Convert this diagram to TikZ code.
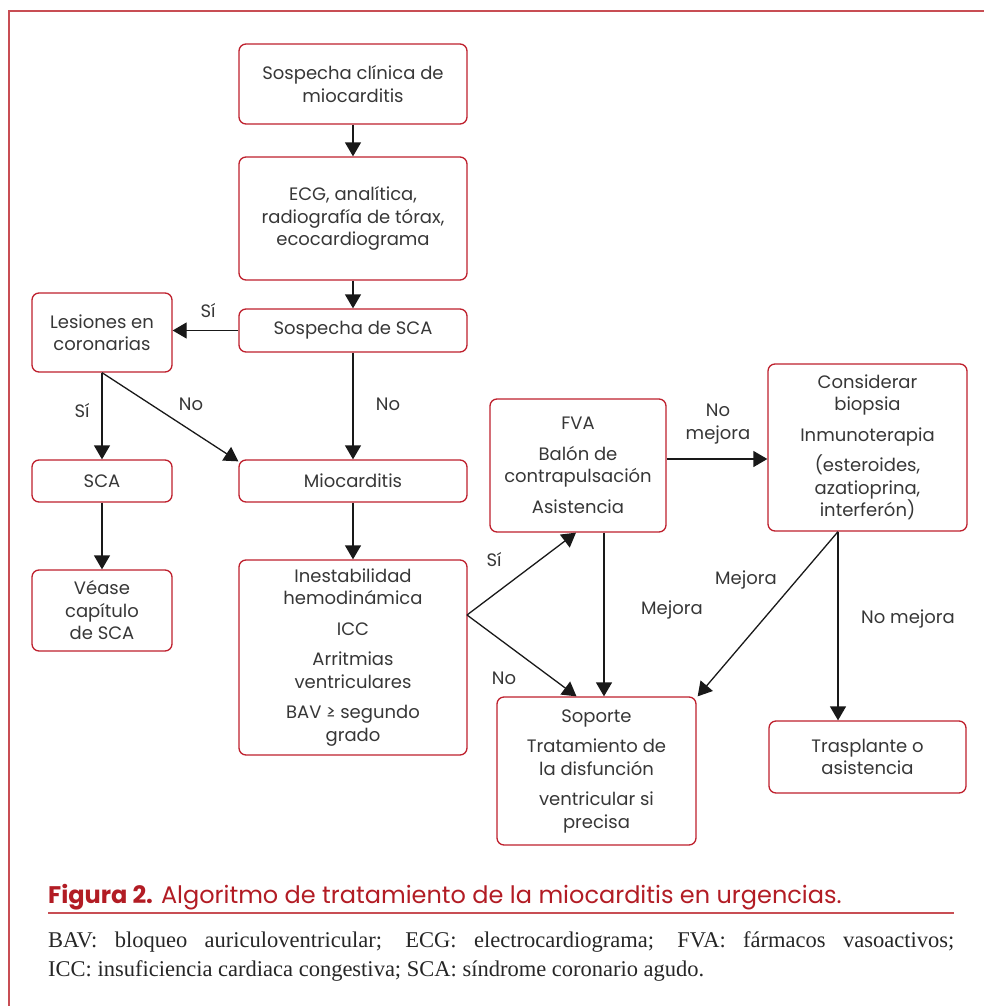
\documentclass[tikz,border=0pt]{standalone}
\usepackage{fontspec}
\setsansfont{Poppins}
\setmainfont{Liberation Serif}
\usetikzlibrary{arrows.meta,calc}
\definecolor{boxred}{RGB}{190,32,45}
\definecolor{framered}{RGB}{200,78,84}
\definecolor{capred}{RGB}{178,28,36}
\definecolor{txt}{RGB}{55,55,55}
\begin{document}
\begin{tikzpicture}[x=1pt,y=-1pt,
  box/.style={draw=boxred,line width=1.3pt,rounded corners=7pt,fill=white,
    align=center,text=txt,inner sep=0pt,
    font=\sffamily\fontsize{18}{22.5}\selectfont},
  arr/.style={draw=black!90,line width=1.3pt,-{Triangle[width=16pt,length=14pt]}},
  lab/.style={text=txt,font=\sffamily\fontsize{18}{22.5}\selectfont,align=center,inner sep=0pt}]
\useasboundingbox (0,0) rectangle (983,1006);
\draw[framered,line width=2pt] (9,1007) -- (9,11) -- (984,11);

\node[box,minimum width=228pt,minimum height=80pt] (b1) at (353,84) {Sospecha clínica de\\miocarditis};
\node[box,minimum width=228pt,minimum height=123pt] (b2) at (353,218.5) {ECG, analítica,\\radiografía de tórax,\\ecocardiograma};
\node[box,minimum width=228pt,minimum height=43pt] (b3) at (353,330.5) {Sospecha de SCA};
\node[box,minimum width=140pt,minimum height=79pt] (les) at (102,332.5) {Lesiones en\\coronarias};
\node[box,minimum width=140pt,minimum height=42pt] (sca) at (102,481) {SCA};
\node[box,minimum width=140pt,minimum height=81pt] (vea) at (102,610.5) {Véase\\capítulo\\de SCA};
\node[box,minimum width=228pt,minimum height=42pt] (mio) at (353,481) {Miocarditis};
\node[box,minimum width=228pt,minimum height=195pt] (ine) at (353,657.5) {Inestabilidad\\hemodinámica\\[8pt]ICC\\[8pt]Arritmias\\ventriculares\\[8pt]BAV ≥ segundo\\grado};
\node[box,minimum width=176pt,minimum height=133pt] (fva) at (578,465.5) {FVA\\[8pt]Balón de\\contrapulsación\\[8pt]Asistencia};
\node[box,minimum width=199pt,minimum height=167pt] (con) at (867.5,447.5) {Considerar\\biopsia\\[8pt]Inmunoterapia\\[8pt](esteroides,\\azatioprina,\\interferón)};
\node[box,minimum width=199pt,minimum height=148pt] (sop) at (596.5,771) {Soporte\\[8pt]Tratamiento de\\la disfunción\\[8pt]ventricular si\\precisa};
\node[box,minimum width=197pt,minimum height=72pt] (tra) at (867.5,757) {Trasplante o\\asistencia};

\coordinate (hy) at (0,459);
\coordinate (ij) at (467,615);

\draw[arr] (b1) -- (b2);
\draw[arr] (b2) -- (b3);
\draw[arr] (b3.west) -- (les.east |- b3.west);
\draw[arr] (b3) -- (mio);
\draw[arr] (les.south) -- (sca.north);
\draw[arr] (les.south) -- ($(mio.north west)+(0,2)$);
\draw[arr] (sca) -- (vea);
\draw[arr] (mio) -- (ine);
\draw[arr] (ij) -- ($(fva.south)+(-2,0)$);
\draw[arr] (ij) -- ($(sop.north)+(-20,0)$);
\draw[arr] ($(fva.south)+(26,0)$) -- ($(sop.north)+(7.5,0)$);
\draw[arr] (fva.east |- hy) -- (con.west |- hy);
\draw[arr] ($(con.south)+(-29.5,0)$) -- ($(sop.north east)+(1,0)$);
\draw[arr] ($(con.south)+(-29.5,0)$) -- ($(tra.north)+(-29.5,0)$);

\node[lab] (l1) at (208,311) {Sí};
\node[lab] (l2) at (388,404) {No};
\node[lab] (l3) at (82,411) {Sí};
\node[lab] (l4) at (191,404) {No};
\node[lab] (l5) at (494,560) {Sí};
\node[lab] (l6) at (504,678) {No};
\node[lab] (l7) at (672,610) {Mejora};
\node[lab] (l8) at (718,424) {No\\mejora};
\node[lab] (l9) at (746,580) {Mejora};
\node[lab] (l10) at (908,619) {No mejora};

\node[anchor=base west,inner sep=0pt,text=capred,font=\sffamily\fontsize{24}{28}\selectfont] (cap) at (48,903) {\textbf{Figura 2.}\hspace{8pt}Algoritmo de tratamiento de la miocarditis en urgencias.};
\draw[framered,line width=1.8pt] (48,913) -- (954,913);
\node[anchor=north west,inner sep=0pt,text width=906pt,align=justify,text=black!85,font=\rmfamily\fontsize{22.5}{29}\selectfont] (foot) at (48,931) {BAV: bloqueo auriculoventricular; ECG: electrocardiograma; FVA: fármacos vasoactivos;\linebreak ICC: insuficiencia cardiaca congestiva; SCA: síndrome coronario agudo.};
\end{tikzpicture}
\end{document}
